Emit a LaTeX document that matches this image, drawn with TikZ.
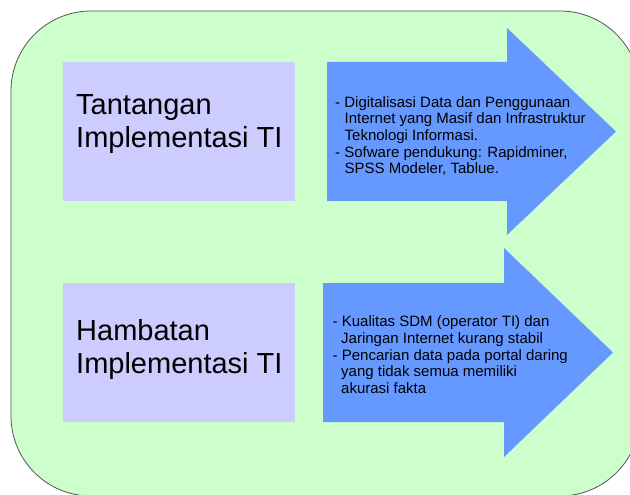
\documentclass[tikz,border=0pt]{standalone}
\usepackage{fontspec}
\setmainfont{Liberation Sans}
\definecolor{panelgreen}{HTML}{CCFFCC}
\definecolor{boxlav}{HTML}{CCCCFF}
\definecolor{arrowblue}{HTML}{6699FF}
\definecolor{panelline}{HTML}{555555}
\tikzset{
  panel/.style={fill=panelgreen, draw=panelline, line width=0.8pt, rounded corners=80pt},
  titlebox/.style={fill=boxlav, draw=none, inner sep=0pt, anchor=north west},
  bluearrow/.style={fill=arrowblue, draw=none},
  titletext/.style={font=\fontsize{29}{33}\selectfont, align=left, inner sep=0pt, anchor=north west},
  listtext/.style={font=\fontsize{15}{16.6}\selectfont, align=left, inner sep=0pt, anchor=north west},
}
\begin{document}
\begin{tikzpicture}[x=1pt, y=-1pt]
  \useasboundingbox (0,0) rectangle (630,495);

  % rounded green panel, running off the right and bottom edges
  \begin{scope}
    \clip (0,0) rectangle (630,495);
    \draw[panel] (11,11) rectangle (640,496);
  \end{scope}

  % lavender title boxes
  \node[titlebox, minimum width=232pt, minimum height=139pt] (tbox) at (63,62) {};
  \node[titlebox, minimum width=232pt, minimum height=139pt] (hbox) at (63,283) {};

  % blue block arrows
  \fill[bluearrow] (327,62) -- (507,62) -- (507,28) -- (616,131.5)
        -- (507,235) -- (507,201) -- (327,201) -- cycle;
  \fill[bluearrow] (323,283) -- (504,283) -- (504,248) -- (613,352.5)
        -- (504,457) -- (504,422) -- (323,422) -- cycle;

  % titles
  \node[titletext] (ttitle) at (76,94.2) {Tantangan\\Implementasi TI};
  \node[titletext] (htitle) at (76,319) {Hambatan\\Implementasi TI};

  % arrow contents
  \node[listtext] (tlist) at (335,96.3)
    {- Digitalisasi Data dan Penggunaan\\
     \hspace*{9.5pt}Internet yang Masif dan Infrastruktur\\
     \hspace*{9.5pt}Teknologi Informasi.\\
     - Sofware pendukung: Rapidminer,\\
     \hspace*{9.5pt}SPSS Modeler, Tablue.};
  \node[listtext] (hlist) at (332.5,315.8)
    {- Kualitas SDM (operator TI) dan\\
     \hspace*{8.5pt}Jaringan Internet kurang stabil\\
     - Pencarian data pada portal daring\\
     \hspace*{8.5pt}yang tidak semua memiliki\\
     \hspace*{8.5pt}akurasi fakta};
\end{tikzpicture}
\end{document}
